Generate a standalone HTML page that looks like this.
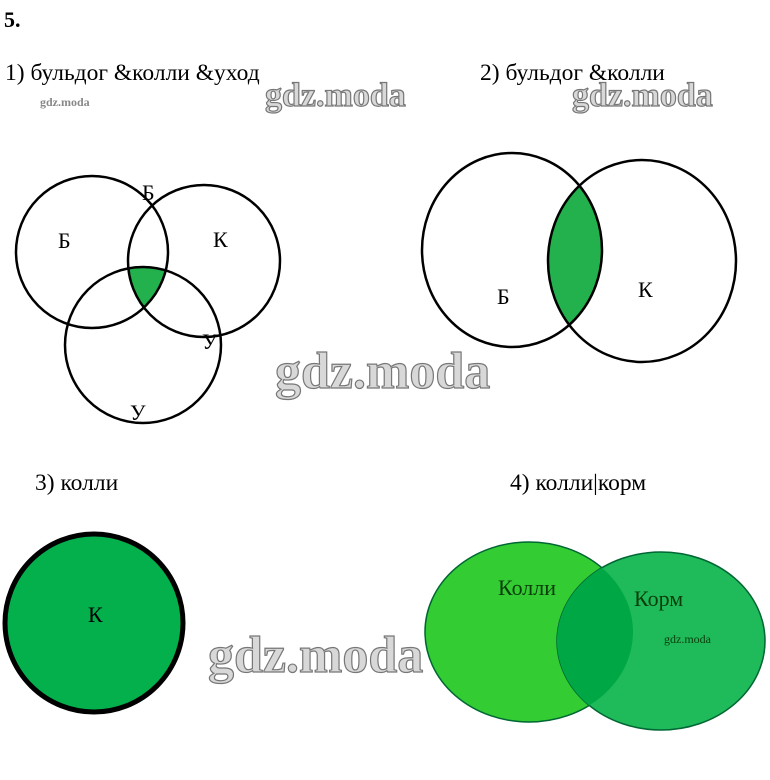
<!DOCTYPE html>
<html><head><meta charset="utf-8"><style>
body{margin:0;background:#fff;}
svg{display:block;}
text{font-family:"Liberation Serif","DejaVu Serif",serif;}
.wm{font-weight:bold;fill:#d8d8d8;stroke:#777;stroke-width:1.2;}
</style></head><body>
<svg width="770" height="780" viewBox="0 0 770 780" xmlns="http://www.w3.org/2000/svg">
<defs>
<clipPath id="cB1"><circle cx="92" cy="252" r="76"/></clipPath>
<clipPath id="cK1"><circle cx="204" cy="261" r="76"/></clipPath>
<clipPath id="cB2"><ellipse cx="512" cy="250" rx="90" ry="97"/></clipPath>
<clipPath id="cE1"><ellipse cx="529" cy="632" rx="104" ry="90"/></clipPath>
</defs>
<text x="4" y="27" font-size="22" font-weight="bold">5.</text>
<text x="5" y="80" font-size="23.5">1) бульдог &amp;колли &amp;уход</text>
<text x="480" y="80" font-size="23.5">2) бульдог &amp;колли</text>
<text x="35" y="490" font-size="23.5">3) колли</text>
<text x="510" y="490" font-size="23.5">4) колли|корм</text>

<!-- diagram 1 -->
<g clip-path="url(#cB1)"><g clip-path="url(#cK1)"><circle cx="143" cy="345" r="78" fill="#22b14c"/></g></g>
<circle cx="92" cy="252" r="76" fill="none" stroke="#000" stroke-width="2.5"/>
<circle cx="204" cy="261" r="76" fill="none" stroke="#000" stroke-width="2.5"/>
<circle cx="143" cy="345" r="78" fill="none" stroke="#000" stroke-width="2.5"/>
<text x="58" y="248" font-size="22">Б</text>
<text x="142" y="200" font-size="22">Б</text>
<text x="213" y="247" font-size="22">К</text>
<text x="202" y="349" font-size="22">У</text>
<text x="130" y="420" font-size="22">У</text>

<!-- diagram 2 -->
<g clip-path="url(#cB2)"><ellipse cx="642" cy="261" rx="94" ry="101" fill="#22b14c"/></g>
<ellipse cx="512" cy="250" rx="90" ry="97" fill="none" stroke="#000" stroke-width="2.5"/>
<ellipse cx="642" cy="261" rx="94" ry="101" fill="none" stroke="#000" stroke-width="2.5"/>
<text x="497" y="304" font-size="22">Б</text>
<text x="638" y="297" font-size="22">К</text>

<!-- diagram 3 -->
<circle cx="94" cy="623" r="89" fill="#03b04c" stroke="#000" stroke-width="5"/>
<text x="88" y="622" font-size="22">К</text>

<!-- diagram 4 -->
<ellipse cx="529" cy="632" rx="104" ry="90" fill="#33cc33" stroke="#063" stroke-width="1.5"/>
<ellipse cx="661" cy="641" rx="104" ry="89" fill="#1fba5a" stroke="#063" stroke-width="1.5"/>
<g clip-path="url(#cE1)"><ellipse cx="661" cy="641" rx="104" ry="89" fill="#00a845"/></g>
<path d="M633 632" fill="none"/>
<text x="498" y="595" font-size="22" fill="#0a3d0a">Колли</text>
<text x="634" y="606" font-size="22" fill="#0a3d0a">Корм</text>
<text x="664" y="643" font-size="12" fill="#0a3d0a">gdz.moda</text>

<!-- watermarks -->
<text class="wm" x="265" y="106" font-size="34">gdz.moda</text>
<text class="wm" x="572" y="106" font-size="34">gdz.moda</text>
<text class="wm" x="275" y="388" font-size="52">gdz.moda</text>
<text class="wm" x="208" y="672" font-size="52">gdz.moda</text>
<text x="40" y="106" font-size="12" fill="#888" font-weight="bold">gdz.moda</text>
</svg>
</body></html>
